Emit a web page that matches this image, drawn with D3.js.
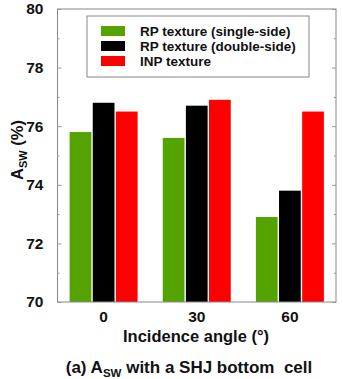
<!DOCTYPE html>
<html><head><meta charset="utf-8">
<script src="https://cdn.jsdelivr.net/npm/d3@7"></script>
<style>body{margin:0;background:#fff}svg{display:block}text{font-family:"Liberation Sans",Arial,sans-serif;font-weight:bold}</style>
</head><body>
<script>
const categories = ["0", "30", "60"];
const seriesNames = ["RP texture (single-side)", "RP texture (double-side)", "INP texture"];
const singleSide = [75.8, 75.6, 72.9];
const doubleSide = [76.8, 76.7, 73.8];
const inp = [76.5, 76.9, 76.5];
const yTicks = [70, 72, 74, 76, 78, 80];
const colors = ["#55a300", "#000000", "#ff0000"];

const W = 343, H = 379;
const m = {l: 57.5, r: 7, t: 9, b: 77};
const svg = d3.select("body").append("svg").attr("width", W).attr("height", H);
const x = d3.scaleBand().domain(categories).range([m.l, W - m.r]).paddingInner(0.27).paddingOuter(0.13);
const y = d3.scaleLinear().domain([70, 80]).range([H - m.b, m.t]);
const xs = d3.scaleBand().domain(d3.range(3)).range([0, x.bandwidth()]).paddingInner(0.06);
const series = [singleSide, doubleSide, inp];

// bars
series.forEach((vals, si) => {
  svg.append("g").selectAll("rect").data(vals).join("rect")
    .attr("x", (d, i) => x(categories[i]) + xs(si))
    .attr("width", xs.bandwidth())
    .attr("y", d => y(d))
    .attr("height", d => y(70) - y(d))
    .attr("fill", colors[si]);
});

// frame
svg.append("rect").attr("x", m.l).attr("y", m.t).attr("width", W - m.r - m.l).attr("height", H - m.b - m.t)
  .attr("fill", "none").attr("stroke", "#888").attr("stroke-width", 1);

// y axis left
const yMinor = d3.range(71, 80, 2);
const gl = svg.append("g").attr("transform", `translate(${m.l},0)`)
  .call(d3.axisLeft(y).tickValues(yTicks).tickSize(-4).tickPadding(14).tickFormat(d3.format("d")));
gl.select(".domain").remove();
gl.selectAll("line").attr("stroke", "#999");
gl.selectAll("text").attr("font-size", 15.5).attr("fill", "#111");
const glm = svg.append("g").attr("transform", `translate(${m.l},0)`)
  .call(d3.axisLeft(y).tickValues(yMinor).tickSize(-2).tickFormat(""));
glm.select(".domain").remove(); glm.selectAll("line").attr("stroke", "#999");
// right
const gr = svg.append("g").attr("transform", `translate(${W - m.r},0)`)
  .call(d3.axisRight(y).tickValues(yTicks).tickSize(-4).tickFormat(""));
gr.select(".domain").remove(); gr.selectAll("line").attr("stroke", "#999");
const grm = svg.append("g").attr("transform", `translate(${W - m.r},0)`)
  .call(d3.axisRight(y).tickValues(yMinor).tickSize(-2).tickFormat(""));
grm.select(".domain").remove(); grm.selectAll("line").attr("stroke", "#999");

// x axis
const gx = svg.append("g").attr("transform", `translate(0,${H - m.b})`)
  .call(d3.axisBottom(x).tickSize(0).tickPadding(9));
gx.select(".domain").remove();
gx.selectAll("text").attr("font-size", 15.5).attr("fill", "#111");

// axis titles
svg.append("text").attr("x", 196).attr("y", 342).attr("text-anchor", "middle")
  .attr("font-size", 16.5).attr("fill", "#111").text("Incidence angle (°)");
const yl = svg.append("text").attr("transform", `translate(23,150) rotate(-90)`)
  .attr("text-anchor", "middle").attr("font-size", 16.5).attr("fill", "#111");
yl.append("tspan").text("A");
yl.append("tspan").attr("font-size", 11).attr("dy", 4).text("SW");
yl.append("tspan").attr("dy", -4).text(" (%)");

// caption
const cap = svg.append("text").attr("x", 189).attr("y", 373).attr("text-anchor", "middle")
  .attr("font-size", 17).attr("fill", "#111");
cap.append("tspan").text("(a) A");
cap.append("tspan").attr("font-size", 11.5).attr("dy", 4).text("SW");
cap.append("tspan").attr("dy", -4).text(" with a SHJ bottom\u00a0 cell");

// legend
const lg = svg.append("g");
lg.append("rect").attr("x", 87).attr("y", 16).attr("width", 222).attr("height", 61)
  .attr("fill", "#fff").attr("stroke", "#888").attr("stroke-width", 1);
seriesNames.forEach((n, i) => {
  const cy = 31 + i * 15;
  lg.append("rect").attr("x", 101).attr("y", cy - 5).attr("width", 24).attr("height", 10).attr("fill", colors[i]);
  lg.append("text").attr("x", 140).attr("y", cy + 5).attr("font-size", 13.5).attr("fill", "#111").text(n);
});
</script>
</body></html>
